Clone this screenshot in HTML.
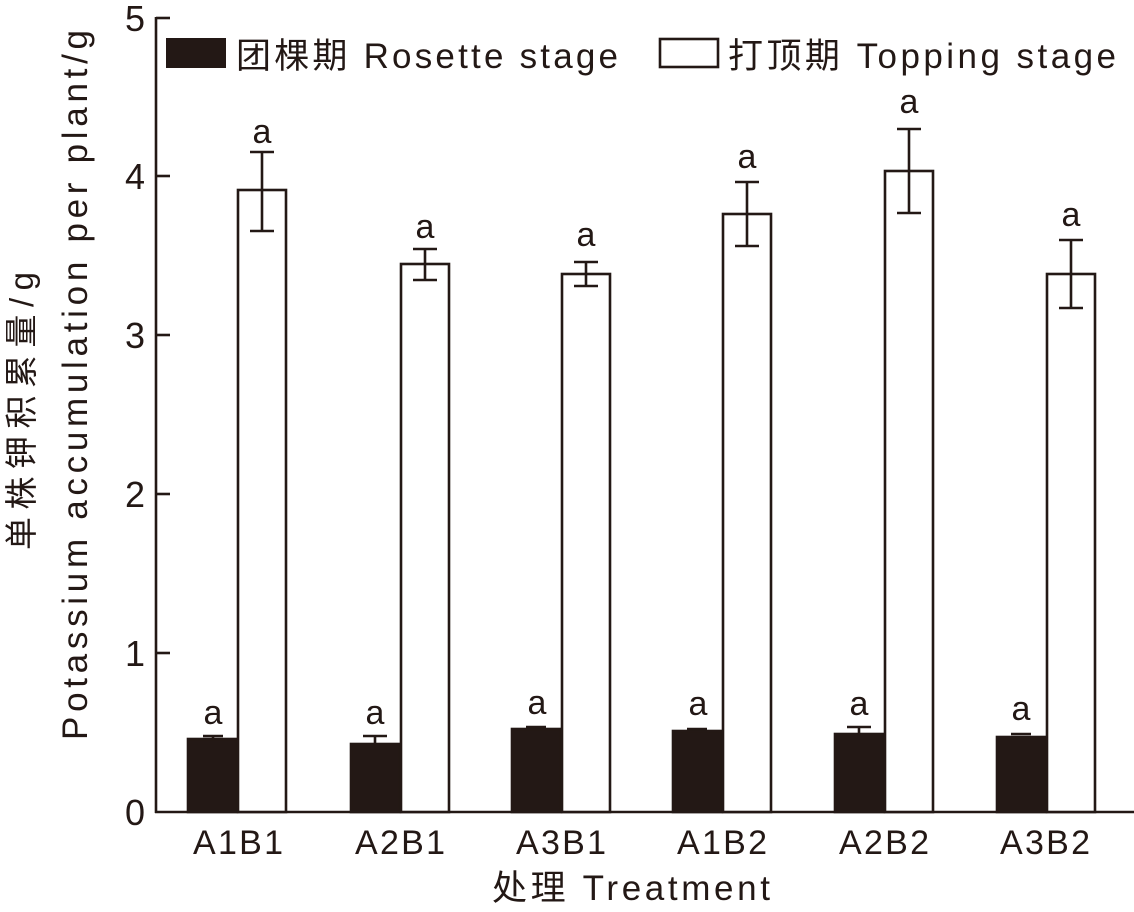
<!DOCTYPE html>
<html><head><meta charset="utf-8"><style>
html,body{margin:0;padding:0;background:#fff;}
svg{display:block;}
text{font-family:"Liberation Sans","Noto Sans CJK SC",sans-serif;fill:#231815;}
</style></head><body>
<svg width="1134" height="912" viewBox="0 0 1134 912" xmlns="http://www.w3.org/2000/svg">
<g stroke="#231815" stroke-width="2.6" fill="none">
<line x1="156" y1="17" x2="156" y2="813"/>
<line x1="155" y1="812" x2="1134" y2="812"/>
<line x1="156" y1="18" x2="170" y2="18"/>
<line x1="156" y1="176" x2="170" y2="176"/>
<line x1="156" y1="335" x2="170" y2="335"/>
<line x1="156" y1="494" x2="170" y2="494"/>
<line x1="156" y1="653" x2="170" y2="653"/>
</g>
<g font-size="36" text-anchor="end">
<text x="145" y="31">5</text>
<text x="145" y="189">4</text>
<text x="145" y="348">3</text>
<text x="145" y="507">2</text>
<text x="145" y="666">1</text>
<text x="145" y="825">0</text>
</g>
<rect x="166" y="38" width="60" height="30" fill="#231815"/>
<text x="236" y="68" font-size="35" textLength="382" lengthAdjust="spacing">团棵期 Rosette stage</text>
<rect x="660" y="39" width="58" height="28" fill="#fff" stroke="#231815" stroke-width="2.6"/>
<text x="728" y="68" font-size="35" textLength="388" lengthAdjust="spacing">打顶期 Topping stage</text>
<text transform="translate(33,411) rotate(-90)" font-size="33" text-anchor="middle" textLength="278" lengthAdjust="spacing">单株钾积累量/g</text>
<text transform="translate(87,385) rotate(-90)" font-size="35" text-anchor="middle" textLength="710" lengthAdjust="spacing">Potassium accumulation per plant/g</text>
<text x="631" y="900" font-size="35" text-anchor="middle" textLength="278" lengthAdjust="spacing">处理 Treatment</text>
<g font-size="34" text-anchor="middle">
<text x="238" y="854" textLength="90" lengthAdjust="spacing">A1B1</text>
<text x="400" y="854" textLength="90" lengthAdjust="spacing">A2B1</text>
<text x="561" y="854" textLength="90" lengthAdjust="spacing">A3B1</text>
<text x="722" y="854" textLength="90" lengthAdjust="spacing">A1B2</text>
<text x="884" y="854" textLength="90" lengthAdjust="spacing">A2B2</text>
<text x="1045" y="854" textLength="90" lengthAdjust="spacing">A3B2</text>
</g>
<g stroke="#231815" stroke-width="2.6">
<rect x="188" y="739" width="49" height="73" fill="#231815"/>
<line x1="203" y1="736" x2="223" y2="736"/><line x1="213" y1="736" x2="213" y2="740"/>
<rect x="238" y="190" width="48" height="622" fill="#fff"/>
<line x1="262" y1="152" x2="262" y2="231"/><line x1="250" y1="152" x2="274" y2="152"/><line x1="250" y1="231" x2="274" y2="231"/>
<rect x="351" y="744" width="49" height="68" fill="#231815"/>
<line x1="375" y1="736" x2="375" y2="744"/><line x1="363" y1="736" x2="387" y2="736"/>
<rect x="401" y="264" width="48" height="548" fill="#fff"/>
<line x1="425" y1="249" x2="425" y2="280"/><line x1="413" y1="249" x2="437" y2="249"/><line x1="413" y1="280" x2="437" y2="280"/>
<rect x="512" y="729" width="49" height="83" fill="#231815"/>
<line x1="526" y1="727" x2="546" y2="727"/>
<rect x="562" y="274" width="48" height="538" fill="#fff"/>
<line x1="586" y1="262" x2="586" y2="286"/><line x1="574" y1="262" x2="598" y2="262"/><line x1="574" y1="286" x2="598" y2="286"/>
<rect x="673" y="731" width="49" height="81" fill="#231815"/>
<line x1="687" y1="729" x2="707" y2="729"/>
<rect x="723" y="214" width="48" height="598" fill="#fff"/>
<line x1="747" y1="182" x2="747" y2="246"/><line x1="735" y1="182" x2="759" y2="182"/><line x1="735" y1="246" x2="759" y2="246"/>
<rect x="835" y="734" width="49" height="78" fill="#231815"/>
<line x1="859" y1="727" x2="859" y2="734"/><line x1="847" y1="727" x2="871" y2="727"/>
<rect x="885" y="171" width="48" height="641" fill="#fff"/>
<line x1="909" y1="129" x2="909" y2="213"/><line x1="897" y1="129" x2="921" y2="129"/><line x1="897" y1="213" x2="921" y2="213"/>
<rect x="997" y="737" width="49" height="75" fill="#231815"/>
<line x1="1011" y1="734" x2="1031" y2="734"/>
<rect x="1047" y="274" width="48" height="538" fill="#fff"/>
<line x1="1071" y1="240" x2="1071" y2="308"/><line x1="1059" y1="240" x2="1083" y2="240"/><line x1="1059" y1="308" x2="1083" y2="308"/>
</g>
<g font-size="34" text-anchor="middle">
<text x="213" y="724">a</text><text x="262" y="143">a</text>
<text x="375" y="724">a</text><text x="425" y="238">a</text>
<text x="537" y="714">a</text><text x="586" y="246">a</text>
<text x="698" y="715">a</text><text x="747" y="168">a</text>
<text x="859" y="715">a</text><text x="909" y="113">a</text>
<text x="1021" y="720">a</text><text x="1071" y="226">a</text>
</g>
</svg>
</body></html>
